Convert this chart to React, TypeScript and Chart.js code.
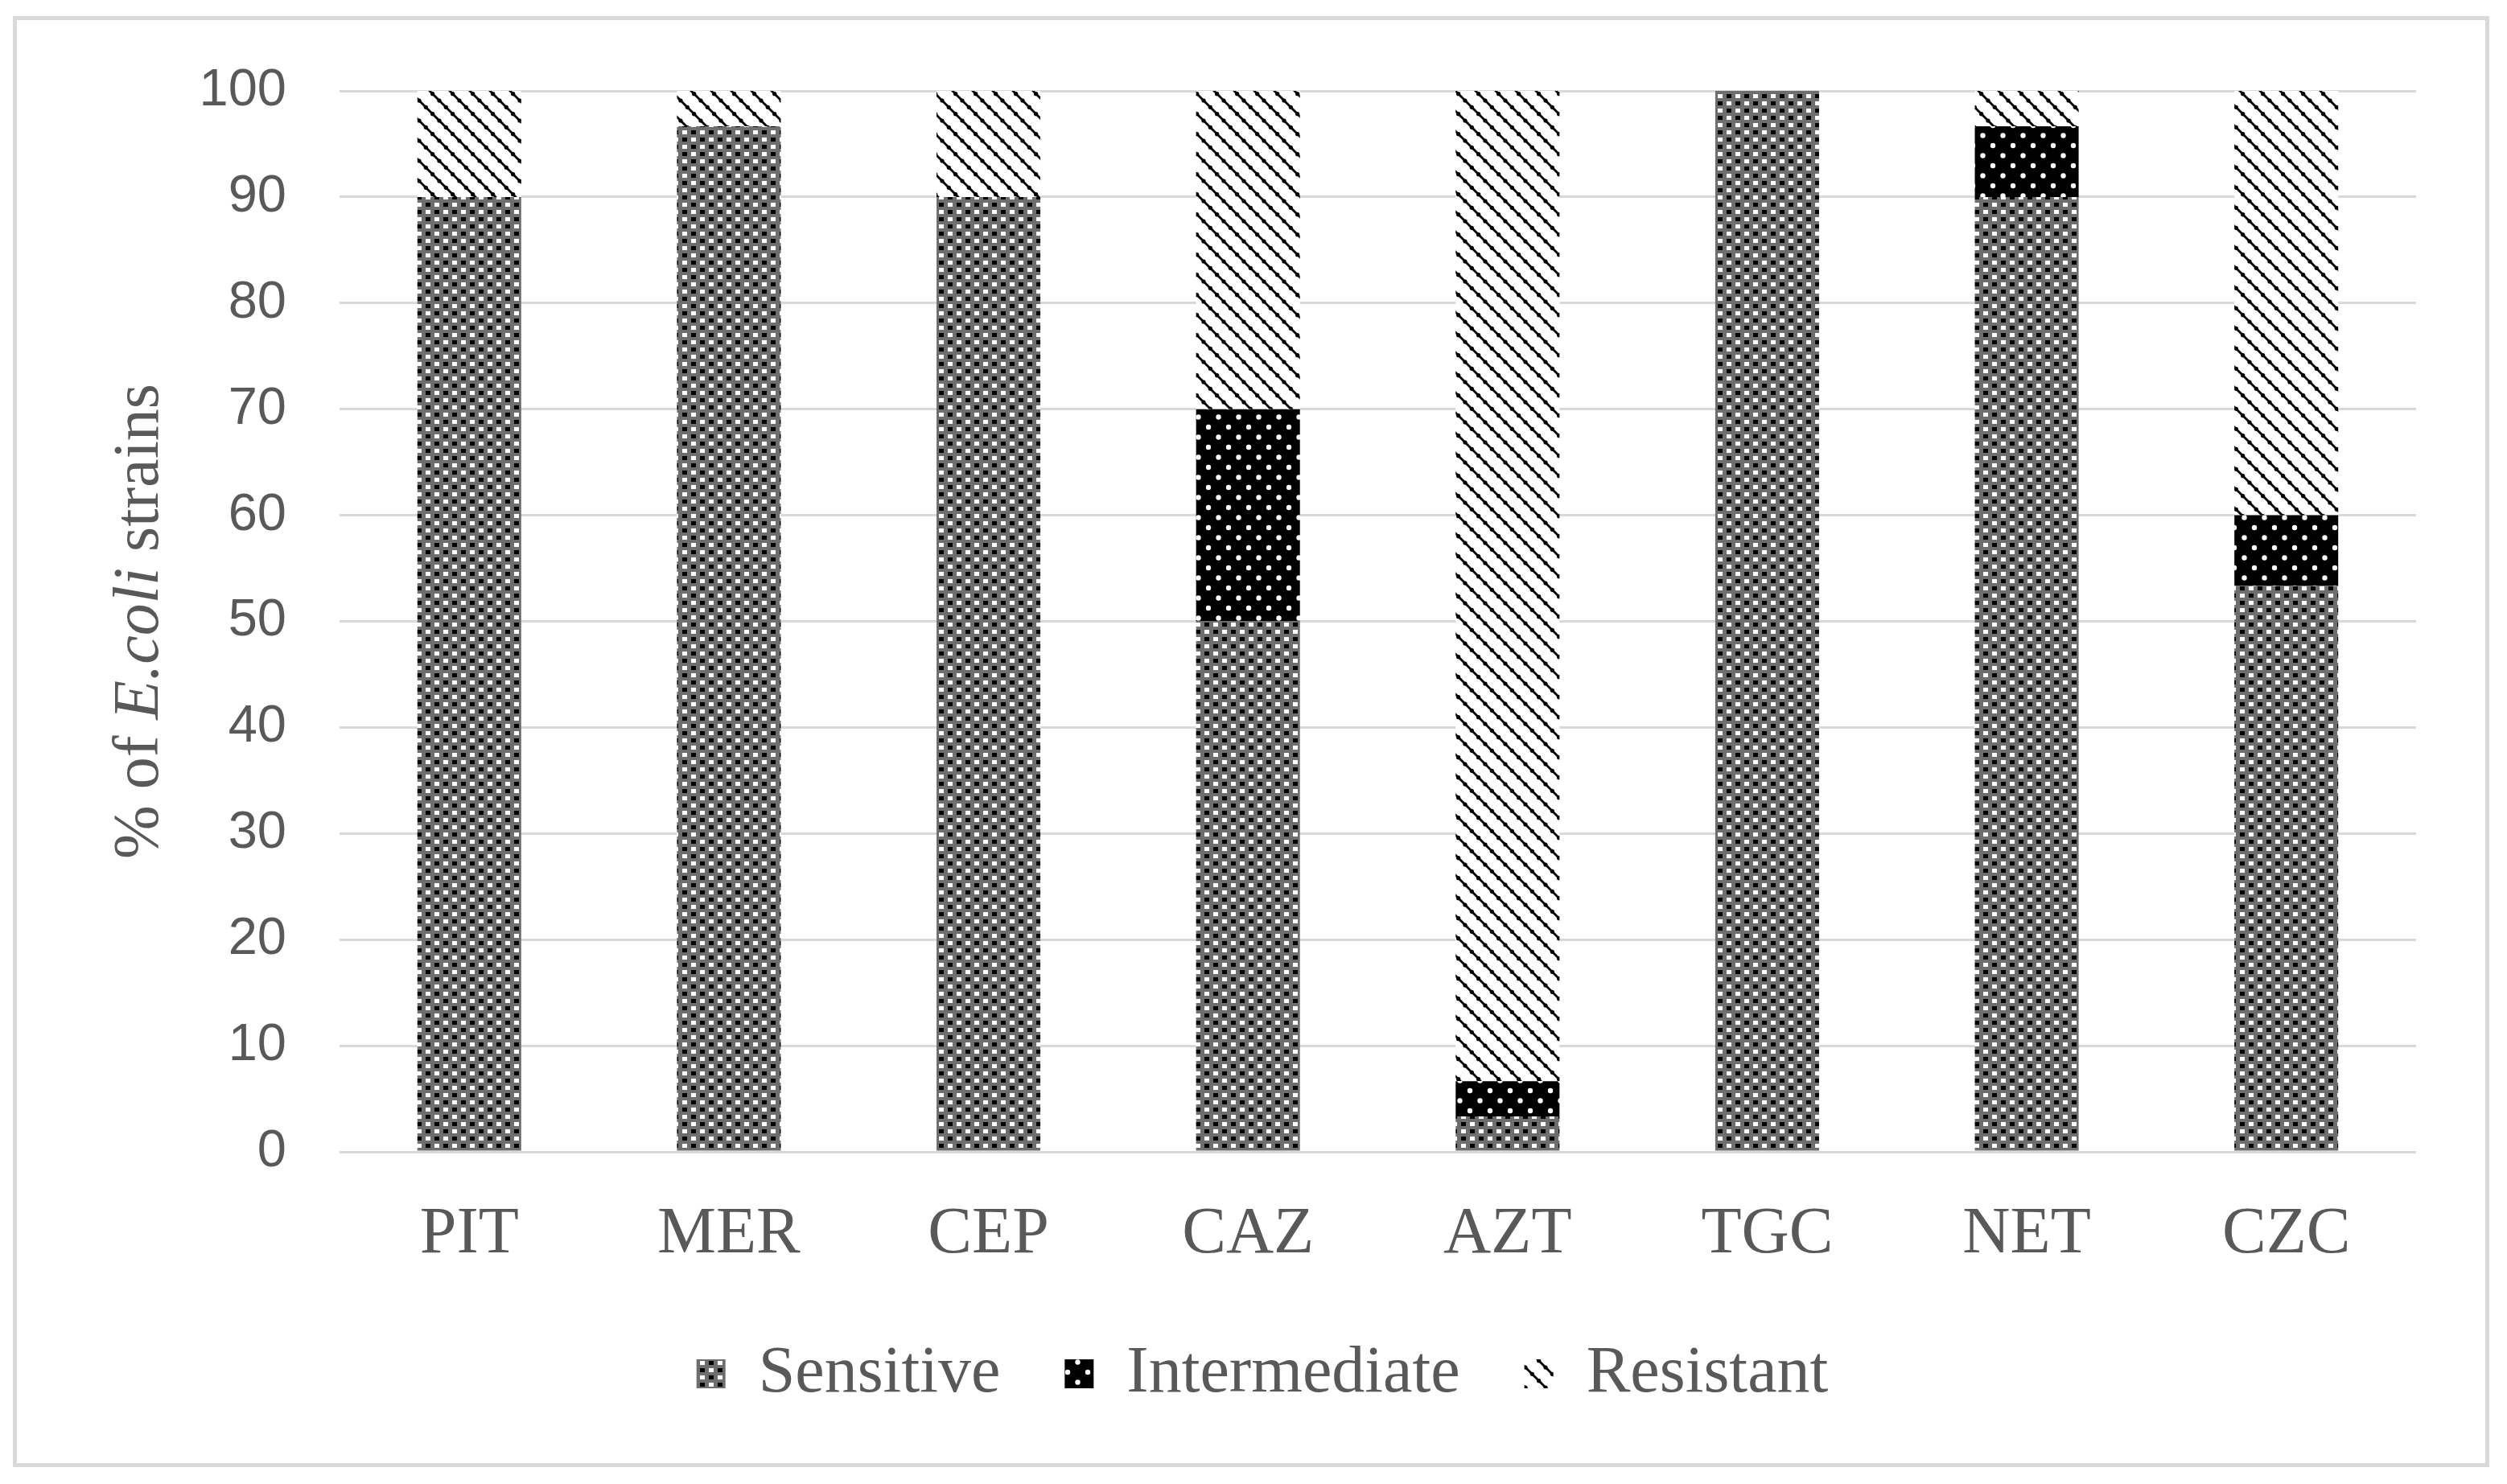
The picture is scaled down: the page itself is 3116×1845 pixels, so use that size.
import React, { useEffect, useRef } from "react";
import { Chart, registerables } from "chart.js";

Chart.register(...registerables);

const categories = ["PIT", "MER", "CEP", "CAZ", "AZT", "TGC", "NET", "CZC"];
const seriesNames = ["Sensitive", "Intermediate", "Resistant"];
const sensitive = [90, 96.67, 90, 50, 3.33, 100, 90, 53.33];
const intermediate = [0, 0, 0, 20, 3.33, 0, 6.67, 6.67];
const resistant = [10, 3.33, 10, 30, 93.34, 0, 3.33, 40];
const yMin = 0;
const yMax = 100;
const yStep = 10;
const yTitleParts = [
  { text: "% of ", italic: false },
  { text: "E.coli", italic: true },
  { text: " strains", italic: false },
];

const TEXT = "#595959";
const GRID = "#d9d9d9";
const SERIF = '"Liberation Serif", "Times New Roman", serif';
const SANS = '"Liberation Sans", Arial, sans-serif';

function makePattern(w: number, h: number, draw: (c: CanvasRenderingContext2D) => void): CanvasPattern {
  const tile = document.createElement("canvas");
  tile.width = w;
  tile.height = h;
  const c = tile.getContext("2d")!;
  draw(c);
  const host = document.createElement("canvas").getContext("2d")!;
  return host.createPattern(tile, "repeat")!;
}

function sensitivePattern() {
  return makePattern(22, 18, (c) => {
    c.fillStyle = "#6e6e6e";
    c.fillRect(0, 0, 22, 18);
    c.fillStyle = "#fff";
    c.fillRect(2, 2, 6, 5);
    c.fillRect(13, 11, 6, 5);
    c.fillStyle = "#000";
    c.fillRect(13, 2, 6, 5);
    c.fillRect(2, 11, 6, 5);
  });
}

function intermediatePattern() {
  return makePattern(25, 25, (c) => {
    c.fillStyle = "#000";
    c.fillRect(0, 0, 25, 25);
    c.fillStyle = "#fff";
    c.beginPath();
    c.arc(6, 6, 3.2, 0, Math.PI * 2);
    c.fill();
    c.beginPath();
    c.arc(18.5, 18.5, 3.2, 0, Math.PI * 2);
    c.fill();
  });
}

function resistantPattern() {
  return makePattern(25, 25, (c) => {
    c.fillStyle = "#fff";
    c.fillRect(0, 0, 25, 25);
    c.strokeStyle = "#000";
    c.lineWidth = 2.8;
    for (const off of [-25, 0, 25]) {
      c.beginPath();
      c.moveTo(off - 5, -5);
      c.lineTo(off + 30, 30);
      c.stroke();
    }
    c.fillStyle = "#000";
    for (const off of [-25, 0, 25]) {
      for (let t = 0; t <= 25; t += 8.333) {
        c.beginPath();
        c.arc(t + off, t, 2.6, 0, Math.PI * 2);
        c.fill();
      }
    }
  });
}

const yTitlePlugin = {
  id: "yTitleMixed",
  afterDraw(chart: any) {
    const { ctx, chartArea } = chart;
    const size = 80;
    ctx.save();
    const fonts = yTitleParts.map((p) => `${p.italic ? "italic " : ""}${size}px ${SERIF}`);
    const widths = yTitleParts.map((p, i) => {
      ctx.font = fonts[i];
      return ctx.measureText(p.text).width;
    });
    const total = widths.reduce((a, b) => a + b, 0);
    const cx = chart.scales.y.left + 40;
    const cy = (chartArea.top + chartArea.bottom) / 2;
    ctx.translate(cx, cy);
    ctx.rotate(-Math.PI / 2);
    ctx.fillStyle = TEXT;
    ctx.textBaseline = "middle";
    ctx.textAlign = "left";
    let x = -total / 2;
    yTitleParts.forEach((p, i) => {
      ctx.font = fonts[i];
      ctx.fillText(p.text, x, 0);
      x += widths[i];
    });
    ctx.restore();
  },
};

export default function App() {
  const ref = useRef<HTMLCanvasElement | null>(null);

  useEffect(() => {
    if (!ref.current) return;
    const fills = [sensitivePattern(), intermediatePattern(), resistantPattern()];
    const values = [sensitive, intermediate, resistant];
    const chart = new Chart(ref.current, {
      type: "bar",
      data: {
        labels: categories,
        datasets: seriesNames.map((name, i) => ({
          label: name,
          data: values[i],
          backgroundColor: fills[i],
          borderWidth: 0,
          categoryPercentage: 1,
          barPercentage: 0.4,
        })),
      },
      options: {
        animation: false,
        responsive: true,
        maintainAspectRatio: false,
        devicePixelRatio: 1,
        layout: { padding: { left: 114, right: 86, top: 88, bottom: 60 } },
        plugins: {
          tooltip: { enabled: false },
          legend: {
            position: "bottom",
            labels: {
              color: TEXT,
              font: { family: SERIF, size: 82 },
              boxWidth: 36,
              boxHeight: 36,
              padding: 80,
            },
          },
        },
        scales: {
          x: {
            stacked: true,
            grid: { display: false, drawTicks: false },
            border: { display: false },
            ticks: { color: TEXT, font: { family: SERIF, size: 82 }, padding: 54 },
            afterFit: (s: any) => {
              s.height = 155;
            },
          },
          y: {
            stacked: true,
            min: yMin,
            max: yMax,
            ticks: { stepSize: yStep, color: TEXT, font: { family: SANS, size: 65 }, padding: 66 },
            grid: { color: GRID, lineWidth: 3, drawTicks: false },
            border: { display: false },
            afterFit: (s: any) => {
              s.width = 287;
              s.paddingTop = 40;
              s.paddingBottom = 40;
            },
          },
        },
      },
      plugins: [yTitlePlugin],
    });
    return () => chart.destroy();
  }, []);

  return (
    <div
      style={{
        position: "absolute",
        left: 16,
        top: 20,
        width: 3078,
        height: 1804,
        boxSizing: "border-box",
        border: "5px solid #d9d9d9",
        background: "#fff",
      }}
    >
      <div style={{ position: "relative", width: 3068, height: 1794 }}>
        <canvas ref={ref} />
      </div>
    </div>
  );
}
